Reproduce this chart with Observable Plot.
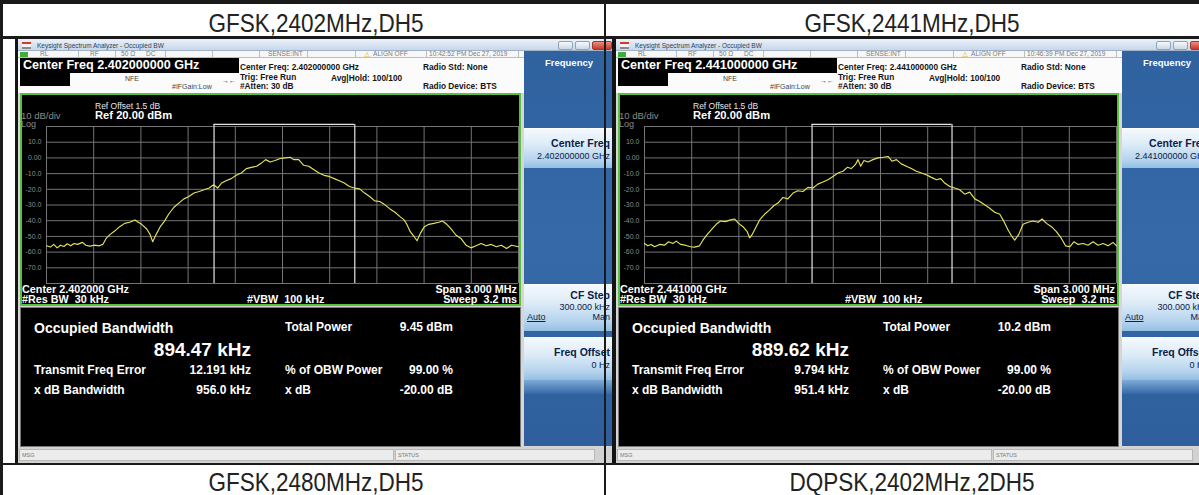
<!DOCTYPE html>
<html><head><meta charset="utf-8">
<script src="https://cdn.jsdelivr.net/npm/d3@7"></script>
<script src="https://cdn.jsdelivr.net/npm/@observablehq/plot@0.6"></script>
<style>
body{margin:0;background:#fff;font-family:"Liberation Sans",Arial,sans-serif;}
#root{position:relative;width:1199px;height:495px;overflow:hidden;background:#fff;}
</style></head><body><div id="root"></div>
<script>
const cellTitles = ["GFSK,2402MHz,DH5", "GFSK,2441MHz,DH5"];
const footerTitles = ["GFSK,2480MHz,DH5", "DQPSK,2402MHz,2DH5"];
const centerFreqs = ["2.402000000", "2.441000000"];
const centerShort = ["2.402000", "2.441000"];
const stamps = ["10:42:52 PM Dec 27, 2019", "10:46:39 PM Dec 27, 2019"];
const totalPowers = ["9.45 dBm", "10.2 dBm"];
const obwKHz = [894.47, 889.62];
const freqErrKHz = [12.191, 9.794];
const xdbBwKHz = [956.0, 951.4];
const gridMHz = [-1.5,-1.2,-0.9,-0.6,-0.3,0,0.3,0.6,0.9,1.2,1.5];
const gridDb = [20,10,0,-10,-20,-30,-40,-50,-60,-70,-80];
const yTicks = [10,0,-10,-20,-30,-40,-50,-60,-70];

const freqLeft = [-1.5,-1.475,-1.454,-1.432,-1.411,-1.389,-1.368,-1.346,-1.325,-1.303,
-1.271,-1.25,-1.224,-1.196,-1.164,-1.142,-1.121,-1.095,-1.067,-1.035,
-1.003,-0.971,-0.938,-0.917,-0.895,-0.863,-0.842,-0.825,-0.803,-0.777,
-0.752,-0.724,-0.691,-0.659,-0.627,-0.595,-0.563,-0.53,-0.498,-0.466,
-0.438,-0.412,-0.387,-0.359,-0.326,-0.294,-0.262,-0.23,-0.198,-0.165,
-0.133,-0.107,-0.079,-0.047,-0.015,0.017,0.049,0.071,0.103,0.135,
0.167,0.2,0.232,0.264,0.296,0.329,0.361,0.393,0.425,0.457,
0.49,0.522,0.554,0.586,0.618,0.651,0.683,0.715,0.747,0.773,
0.79,0.812,0.837,0.855,0.876,0.902,0.93,0.962,0.994,1.016,
1.044,1.069,1.102,1.134,1.166,1.198,1.23,1.263,1.295,1.327,
1.359,1.391,1.424,1.456,1.5];
const levelLeft = [-56.0,-56.8,-55.1,-57.3,-55.6,-56.4,-54.7,-56.0,-54.5,-55.1,
-53.8,-55.6,-56.2,-55.6,-56.0,-55.1,-51.3,-48.7,-46.6,-43.8,
-41.7,-41.0,-39.5,-41.0,-42.3,-45.3,-48.7,-53.4,-48.7,-43.8,
-40.6,-35.9,-31.6,-28.8,-26.1,-24.6,-22.4,-21.4,-20.3,-19.2,
-17.1,-19.2,-16.0,-14.5,-13.2,-11.1,-9.6,-6.8,-6.0,-5.3,
-3.2,-1.1,-2.6,-1.7,-0.4,0.0,0.4,-1.1,-1.1,-4.7,
-5.3,-7.5,-9.6,-11.1,-11.8,-13.2,-14.5,-16.0,-18.2,-19.2,
-19.7,-22.4,-24.6,-27.4,-27.8,-29.9,-32.5,-34.6,-37.4,-39.5,
-42.3,-47.0,-50.2,-52.8,-48.1,-43.8,-42.3,-41.7,-41.0,-40.2,
-42.3,-44.9,-49.1,-51.3,-55.6,-57.3,-56.0,-54.5,-56.0,-55.1,
-56.6,-55.6,-57.7,-55.6,-56.6];
const freqRight = [-1.5,-1.479,-1.458,-1.436,-1.404,-1.373,-1.347,-1.32,-1.298,-1.271,
-1.241,-1.207,-1.182,-1.15,-1.129,-1.101,-1.076,-1.044,-1.017,-0.987,
-0.953,-0.928,-0.902,-0.874,-0.847,-0.832,-0.817,-0.796,-0.768,-0.737,
-0.705,-0.677,-0.652,-0.62,-0.589,-0.556,-0.525,-0.493,-0.461,-0.429,
-0.398,-0.366,-0.334,-0.302,-0.27,-0.239,-0.211,-0.186,-0.16,-0.143,
-0.126,-0.105,-0.08,-0.048,-0.016,0.016,0.048,0.073,0.101,0.132,
0.164,0.196,0.228,0.26,0.291,0.323,0.355,0.383,0.408,0.44,
0.472,0.503,0.535,0.567,0.599,0.631,0.662,0.694,0.726,0.758,
0.785,0.811,0.832,0.853,0.879,0.906,0.938,0.97,1.002,1.027,
1.055,1.087,1.118,1.15,1.176,1.203,1.23,1.256,1.288,1.319,
1.351,1.383,1.415,1.447,1.478,1.5];
const levelRight = [-54.5,-56.0,-55.1,-56.6,-55.1,-55.6,-53.4,-54.5,-53.0,-55.1,
-55.6,-56.6,-56.8,-56.0,-52.4,-48.7,-45.9,-42.3,-40.2,-40.6,
-39.5,-38.9,-41.7,-43.8,-47.0,-50.9,-49.1,-44.9,-39.5,-35.9,
-33.1,-30.3,-28.8,-25.2,-26.1,-22.4,-20.9,-21.4,-18.8,-19.2,
-16.7,-15.4,-13.9,-11.8,-9.6,-8.5,-6.0,-6.8,-4.3,-1.1,
-5.3,-1.7,-2.6,-1.1,0.0,0.4,0.9,-2.1,-1.1,-3.8,
-5.3,-6.8,-8.5,-9.6,-10.7,-12.4,-13.9,-13.2,-16.0,-18.2,
-19.2,-20.3,-23.1,-21.8,-26.1,-27.8,-29.9,-32.1,-34.6,-35.9,
-40.6,-45.9,-49.6,-52.4,-48.7,-42.3,-41.0,-40.2,-41.0,-38.9,
-41.7,-43.8,-47.0,-51.3,-56.0,-56.6,-53.4,-55.1,-54.5,-55.6,
-53.4,-55.6,-54.5,-56.0,-53.8,-56.0];

const FONT = '"Liberation Sans", Arial, sans-serif';
const root = document.getElementById("root");

function box(parent, x, y, w, h, style = {}) {
  const d = document.createElement("div");
  d.style.position = "absolute";
  d.style.left = x + "px"; d.style.top = y + "px";
  d.style.width = w + "px"; d.style.height = h + "px";
  d.style.boxSizing = "border-box";
  Object.assign(d.style, style);
  parent.appendChild(d);
  return d;
}
function txt(parent, x, base, s, o = {}) {
  const size = o.size || 8;
  const L = o.lh || size;
  const d = document.createElement("div");
  d.textContent = s;
  Object.assign(d.style, {
    position: "absolute", whiteSpace: "pre", left: x + "px",
    top: (base - L / 2 - 0.3465 * size) + "px", fontSize: size + "px", lineHeight: L + "px",
    fontWeight: o.weight || "normal", color: o.color || "#000", fontFamily: o.font || FONT
  });
  let tf = "";
  if (o.align === "right") tf = "translateX(-100%)";
  else if (o.align === "center") tf = "translateX(-50%)";
  if (o.sx) tf += ` scaleX(${o.sx})`;
  if (tf) { d.style.transform = tf; d.style.transformOrigin = o.align === "right" ? "right" : (o.align === "center" ? "center" : "left"); }
  if (o.extra) Object.assign(d.style, o.extra);
  parent.appendChild(d);
  return d;
}

function graph(freq, level, lo, hi) {
  const data = freq.map((f, i) => ({f, db: level[i]}));
  const grid = "#747474";
  return Plot.plot({
    width: 501, height: 213,
    marginLeft: 26, marginRight: 3, marginTop: 33, marginBottom: 23,
    x: {domain: [-1.5, 1.5], axis: null},
    y: {domain: [-80, 20]},
    style: {background: "transparent", color: "#8c8c8c", fontFamily: FONT, overflow: "visible"},
    marks: [
      Plot.ruleX(gridMHz, {stroke: grid, strokeWidth: 1}),
      Plot.ruleY(gridDb, {stroke: grid, strokeWidth: 1}),
      Plot.axisY(yTicks, {anchor: "left", tickSize: 0, tickPadding: 5, fontSize: 7, fill: "#8c8c8c",
        label: null, tickFormat: d => d === 0 ? "0.00" : d.toFixed(1)}),
      Plot.ruleX([{x: lo}, {x: hi}], {x: "x", y1: () => -80, y2: () => 21.3, stroke: "#e4e4e4", strokeWidth: 1.2}),
      Plot.ruleY([{y: 21.3, a: lo, b: hi}], {y: "y", x1: "a", x2: "b", stroke: "#e4e4e4", strokeWidth: 1.2}),
      Plot.line(data, {x: "f", y: "db", stroke: "#e6e25a", strokeWidth: 1.15})
    ]
  });
}

function screen(i, cx, cw, X0, freq, level) {
  const clip = box(root, cx, 38, cw, 426, {overflow: "hidden", background: "#111"});
  const c = box(clip, X0 - cx, -38, 620, 502, {});
  // window background
  box(c, 0, 38, 620, 426, {background: "#d6d6d6"});
  // title bar
  box(c, 0, 39, 620, 12, {background: "linear-gradient(#eaf1f9,#c8d7ea)", borderBottom: "1px solid #9fb2c8"});
  box(c, 4, 42, 9, 7, {background: "linear-gradient(#d23a2c 0 35%, #f2f2f2 35% 65%, #8a8a8a 65%)"});
  txt(c, 19, 48.5, "Keysight Spectrum Analyzer - Occupied BW", {size: 6.5, color: "#2f3f55"});
  const btn = {border: "1px solid #8ea2bb", borderRadius: "2px", background: "linear-gradient(#f6f9fc,#cbd8e6)"};
  box(c, 540, 41, 15, 9, btn);
  box(c, 557, 41, 15, 9, btn);
  box(c, 574, 41, 20, 9, {border: "1px solid #9b3a30", borderRadius: "2px", background: "linear-gradient(#ee8c7c,#c43b2c)"});
  // status row
  box(c, 0, 51, 506, 7, {background: "#f7f7f7", borderBottom: "1px solid #bdbdbd"});
  box(c, 2, 52, 8, 5, {background: "#3fae3a"});
  [60, 97, 147, 194, 241, 289, 337, 408, 500].forEach(x => box(c, x, 51, 1, 7, {background: "#bdbdbd"}));
  const st = {size: 6.6, color: "#7c7c7c"};
  txt(c, 22, 57, "RL", st);
  txt(c, 72, 57, "RF", st);
  txt(c, 103, 57, "50 \u03A9", st);
  txt(c, 128, 57, "DC", st);
  txt(c, 250, 57, "SENSE:INT", st);
  txt(c, 346, 57.5, "\u26A0", {size: 7, color: "#d9a600", font: '"DejaVu Sans"'});
  txt(c, 355, 57, "ALIGN OFF", st);
  txt(c, 411, 57, stamps[i], st);
  // top info area
  box(c, 0, 58, 506, 35, {background: "#fbfbfb"});
  box(c, 2, 58, 219, 15, {background: "#000"});
  box(c, 2, 73, 50, 13, {background: "#000"});
  txt(c, 5, 69.5, "Center Freq " + centerFreqs[i] + " GHz", {size: 12.6, weight: "bold", color: "#fff"});
  txt(c, 107, 81, "NFE", {size: 7, color: "#444"});
  txt(c, 154, 89, "#IFGain:Low", {size: 7, color: "#444"});
  txt(c, 204, 83, "\u2192\u2190", {size: 7, color: "#333"});
  const inf = {size: 8.3, weight: "bold", color: "#151515"};
  txt(c, 222, 70, "Center Freq: " + centerFreqs[i] + " GHz", inf);
  txt(c, 222, 80, "Trig: Free Run", inf);
  txt(c, 313, 81, "Avg|Hold: 100/100", inf);
  txt(c, 222, 89.5, "#Atten: 30 dB", inf);
  txt(c, 405, 70, "Radio Std: None", inf);
  txt(c, 405, 89.5, "Radio Device: BTS", inf);
  // graph box
  box(c, 2, 93, 501, 213, {background: "#000", border: "2px solid #56c23e"});
  const lo = (freqErrKHz[i] - obwKHz[i] / 2) / 1000;
  const hi = (freqErrKHz[i] + obwKHz[i] / 2) / 1000;
  const svg = graph(freq, level, lo, hi);
  const holder = box(c, 2, 93, 501, 213, {});
  holder.appendChild(svg);
  svg.style.position = "absolute"; svg.style.left = "0px"; svg.style.top = "0px";
  txt(c, 77, 109, "Ref Offset 1.5 dB", {size: 8.5, color: "#e6e6e6"});
  txt(c, 3, 119.5, "10 dB/div", {size: 9.5, color: "#8a8a8a"});
  txt(c, 77, 119, "Ref 20.00 dBm", {size: 11.2, weight: "bold", color: "#fff"});
  txt(c, 3, 128, "Log", {size: 9, color: "#8a8a8a"});
  const bt = {size: 10.8, weight: "bold", color: "#fff"};
  txt(c, 4, 293.5, "Center " + centerShort[i] + " GHz", bt);
  txt(c, 499, 293.5, "Span 3.000 MHz", {...bt, align: "right"});
  txt(c, 4, 303.5, "#Res BW  30 kHz", bt);
  txt(c, 229, 303.5, "#VBW  100 kHz", bt);
  txt(c, 499, 303.5, "Sweep  3.2 ms", {...bt, align: "right"});
  // results panel
  box(c, 2, 307, 501, 140, {background: "#000", border: "1px solid #777"});
  const rl = {size: 12, weight: "bold", color: "#fff"};
  txt(c, 16, 333, "Occupied Bandwidth", {size: 14, weight: "bold", color: "#fff"});
  txt(c, 233, 356, obwKHz[i].toFixed(2) + " kHz", {size: 19, weight: "bold", color: "#fff", align: "right"});
  txt(c, 267, 331, "Total Power", rl);
  txt(c, 435, 331, totalPowers[i], {...rl, align: "right"});
  txt(c, 16, 374.5, "Transmit Freq Error", rl);
  txt(c, 233, 374.5, freqErrKHz[i].toFixed(3) + " kHz", {...rl, align: "right"});
  txt(c, 267, 374.5, "% of OBW Power", rl);
  txt(c, 435, 374.5, "99.00 %", {...rl, align: "right"});
  txt(c, 16, 394.5, "x dB Bandwidth", rl);
  txt(c, 233, 394.5, xdbBwKHz[i].toFixed(1) + " kHz", {...rl, align: "right"});
  txt(c, 267, 394.5, "x dB", rl);
  txt(c, 435, 394.5, "-20.00 dB", {...rl, align: "right"});
  // msg bar
  box(c, 0, 447, 620, 17, {background: "#d2d2d2"});
  box(c, 1, 449, 375, 12, {background: "#ececec", border: "1px solid #b8b8b8"});
  box(c, 377, 449, 200, 12, {background: "#ececec", border: "1px solid #b8b8b8"});
  txt(c, 4, 457.5, "MSG", {size: 5.5, color: "#777"});
  txt(c, 380, 457.5, "STATUS", {size: 5.5, color: "#777"});
  // softkey panel
  box(c, 506, 51, 114, 395, {background: "linear-gradient(#2f629f,#3569a8 50%,#2e5f9c)"});
  txt(c, 551, 66, "Frequency", {size: 9.5, weight: "bold", color: "#fff", align: "center"});
  const key = {background: "linear-gradient(#f4f9fd 0%,#dcebf7 40%,#b4d3ee 80%,#93bfe4 100%)", borderTop: "1px solid #fff"};
  box(c, 506, 128, 114, 40, key);
  box(c, 506, 284, 114, 47, key);
  box(c, 506, 337, 114, 43, key);
  box(c, 506, 380, 114, 14, {background: "linear-gradient(#7eaad6,#3569a8)"});
  const kt = {size: 10.5, weight: "bold", color: "#0c2148", align: "right"};
  const kv = {size: 9, color: "#0c2148", align: "right"};
  txt(c, 592, 147, "Center Freq", kt);
  txt(c, 592, 160, centerFreqs[i] + " GHz", kv);
  txt(c, 592, 299, "CF Step", kt);
  txt(c, 592, 311, "300.000 kHz", kv);
  txt(c, 509, 321, "Auto", {size: 9, color: "#0c2148", extra: {textDecoration: "underline"}});
  txt(c, 592, 321, "Man", kv);
  txt(c, 592, 356, "Freq Offset", kt);
  txt(c, 592, 369, "0 Hz", kv);
  // screenshot left edge border
  box(c, -4, 38, 4, 426, {background: "#141414"});
}

// table header / footer text
const hdr = {size: 25, lh: 18, color: "#222", align: "center", sx: 0.9};
txt(root, 316, 32, cellTitles[0], hdr);
txt(root, 912, 32, cellTitles[1], hdr);
txt(root, 316, 491, footerTitles[0], hdr);
txt(root, 912, 491, footerTitles[1], hdr);

screen(0, 15, 597, 18, freqLeft, levelLeft);
screen(1, 612, 587, 616, freqRight, levelRight);

// table lines
box(root, 0, 0, 1199, 4, {background: "#1a1a1a"});
box(root, 0, 0, 3, 495, {background: "#1a1a1a"});
box(root, 0, 36, 1199, 3, {background: "#1a1a1a"});
box(root, 0, 463, 1199, 2, {background: "#1a1a1a"});
box(root, 604, 0, 2, 495, {background: "#1a1a1a"});
</script></body></html>
